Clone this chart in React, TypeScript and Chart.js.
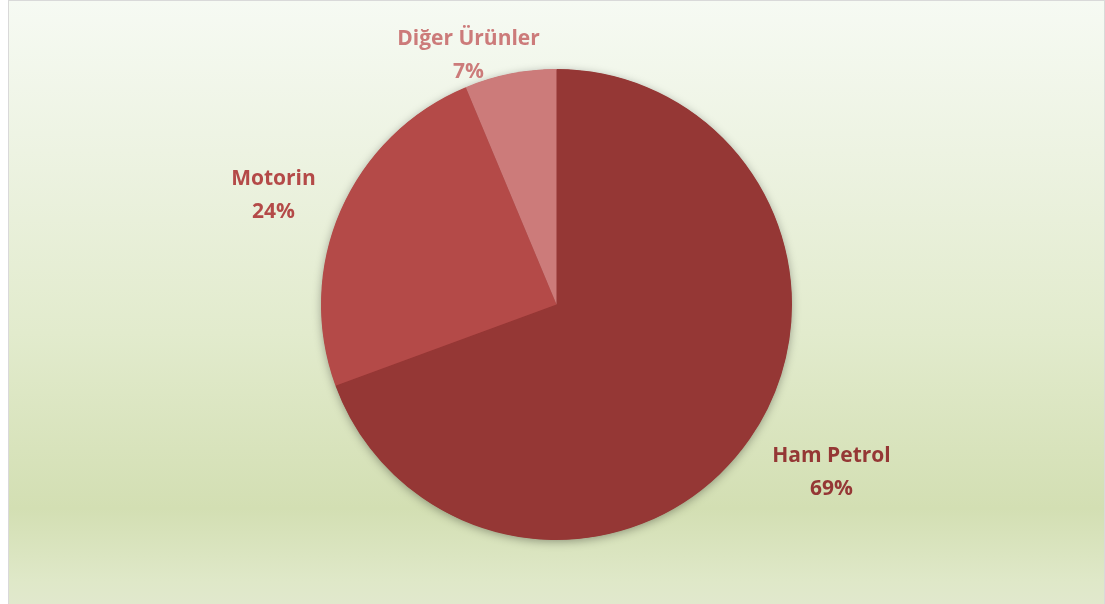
import React, { useEffect, useRef } from "react";
import { Chart, registerables } from "chart.js";

Chart.register(...registerables);

const categories = ["Ham Petrol", "Motorin", "Diğer Ürünler"];
const shares = [69.4, 24.3, 6.3];
const percentLabels = ["69%", "24%", "7%"];
const sliceColors = ["#953735", "#B44A48", "#CC7B7A"];
// label centre offsets relative to pie centre (px)
const labelOffsets = [
  [275, 165],
  [-283, -112],
  [-88, -252],
];

const pieShadow = {
  id: "pieShadow",
  beforeDatasetsDraw(chart: any) {
    const meta = chart.getDatasetMeta(0);
    const arc = meta.data[0];
    if (!arc) return;
    const { x, y, outerRadius } = arc.getProps(["x", "y", "outerRadius"], true);
    const ctx = chart.ctx;
    ctx.save();
    ctx.shadowColor = "rgba(0,0,0,0.35)";
    ctx.shadowBlur = 10;
    ctx.shadowOffsetX = 0;
    ctx.shadowOffsetY = 2;
    ctx.beginPath();
    ctx.arc(x, y, outerRadius - 0.5, 0, Math.PI * 2);
    ctx.fillStyle = sliceColors[0];
    ctx.fill();
    ctx.restore();
  },
};

const outsideLabels = {
  id: "outsideLabels",
  afterDatasetsDraw(chart: any) {
    const meta = chart.getDatasetMeta(0);
    const ctx = chart.ctx;
    ctx.save();
    ctx.font = "bold 21px 'Open Sans', Lato, sans-serif";
    ctx.textAlign = "center";
    ctx.textBaseline = "alphabetic";
    meta.data.forEach((arc: any, i: number) => {
      const { x, y } = arc.getProps(["x", "y"], true);
      const cx = x + labelOffsets[i][0];
      const cy = y + labelOffsets[i][1];
      ctx.fillStyle = sliceColors[i];
      ctx.fillText(categories[i], cx, cy - 8);
      ctx.fillText(percentLabels[i], cx, cy + 25);
    });
    ctx.restore();
  },
};

export default function App() {
  const ref = useRef<HTMLCanvasElement | null>(null);
  useEffect(() => {
    if (!ref.current) return;
    const chart = new Chart(ref.current, {
      type: "pie",
      data: {
        labels: categories,
        datasets: [
          {
            data: shares,
            backgroundColor: sliceColors,
            borderWidth: 0,
          },
        ],
      },
      options: {
        animation: false,
        responsive: false,
        layout: { padding: { top: 68, bottom: 65, left: 100, right: 100 } },
        plugins: {
          legend: { display: false },
          tooltip: { enabled: false },
        },
      },
      plugins: [pieShadow, outsideLabels],
    });
    return () => chart.destroy();
  }, []);
  return (
    <div
      style={{
        position: "fixed",
        left: 8,
        top: 0,
        width: 1097,
        height: 606,
        boxSizing: "border-box",
        border: "1px solid #d9d9d9",
        background:
          "linear-gradient(to bottom, #f6faf3 0%, #edf3e2 25%, #e2ebcd 55%, #d3dfb3 84%, #dfe8c8 96%, #e1e8cd 100%)",
      }}
    >
      <canvas ref={ref} width={1095} height={604} style={{ display: "block" }} />
    </div>
  );
}
